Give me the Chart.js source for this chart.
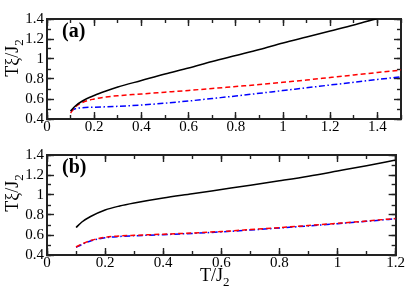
<!DOCTYPE html>
<html>
<head>
<meta charset="utf-8">
<script src="https://cdn.jsdelivr.net/npm/chart.js@4.4.1/dist/chart.umd.min.js"></script>
<style>
  html, body { margin: 0; padding: 0; background: #fff; }
  #wrap { position: relative; width: 411px; height: 293px; overflow: hidden;
          font-family: "Liberation Serif", "DejaVu Serif", serif; color: #000; }
  canvas { position: absolute; left: 0; }
  #chartA { top: 0; }
  #chartB { top: 136px; }
  .panel { position: absolute; font-weight: bold; font-size: 20px; line-height: 20px; }
  .ytitle { position: absolute; width: 80px; height: 20px; line-height: 20px; text-align: center;
            font-size: 18px; white-space: nowrap; transform: rotate(-90deg); }
  .xtitle { position: absolute; font-size: 18px; line-height: 20px; white-space: nowrap; }
  sub { font-size: 0.72em; vertical-align: -0.4em; line-height: 0; }
</style>
</head>
<body>
<div id="wrap">
  <canvas id="chartA" width="411" height="140"></canvas>
  <canvas id="chartB" width="411" height="157"></canvas>
  <div class="panel" style="left:62px; top:20px;">(a)</div>
  <div class="panel" style="left:62px; top:156px;">(b)</div>
  <div class="ytitle" style="left:-28px; top:48px;">Tξ/J<sub>2</sub></div>
  <div class="ytitle" style="left:-28px; top:183px;">Tξ/J<sub>2</sub></div>
  <div class="xtitle" style="left:200px; top:265px;">T/J<sub>2</sub></div>
</div>
<script>
// Panel (a) data
const xA = [0.1, 0.12, 0.15, 0.2, 0.25, 0.3, 0.4, 0.5, 0.6, 0.7, 0.8, 0.9, 1.0, 1.1, 1.2, 1.3, 1.4, 1.5];
const blackA = [0.48, 0.53, 0.58, 0.635, 0.68, 0.72, 0.785, 0.85, 0.91, 0.975, 1.035, 1.095, 1.16, 1.22, 1.28, 1.34, 1.405, 1.46];
const redA = [0.46, 0.52, 0.565, 0.6, 0.62, 0.633, 0.65, 0.668, 0.686, 0.705, 0.725, 0.745, 0.768, 0.79, 0.815, 0.84, 0.865, 0.89];
const blueA = [0.48, 0.503, 0.513, 0.518, 0.522, 0.527, 0.54, 0.558, 0.58, 0.605, 0.63, 0.657, 0.685, 0.712, 0.74, 0.767, 0.795, 0.822];

// Panel (b) data
const xB = [0.1, 0.12, 0.15, 0.2, 0.25, 0.3, 0.4, 0.5, 0.6, 0.7, 0.8, 0.9, 1.0, 1.1, 1.2];
const blackB = [0.675, 0.73, 0.785, 0.85, 0.89, 0.92, 0.97, 1.012, 1.055, 1.098, 1.142, 1.188, 1.24, 1.293, 1.35];
const redB = [0.48, 0.51, 0.545, 0.577, 0.59, 0.597, 0.608, 0.62, 0.635, 0.654, 0.674, 0.695, 0.717, 0.74, 0.765];
const blueB = [0.476, 0.505, 0.54, 0.572, 0.585, 0.592, 0.603, 0.616, 0.631, 0.65, 0.67, 0.691, 0.713, 0.737, 0.762];

// Axis ranges
const yRange = [0.4, 1.4];
const xRangeA = [0, 1.5];
const xRangeB = [0, 1.2];

const FONT = 'Liberation Serif';
const FRAME = '#222';

// one axis; minor ones sit next to the frame and only draw short inward ticks
function axis(pos, range, step, major, labels, size, pad) {
    const horiz = pos === 'top' || pos === 'bottom';
    return {
        type: 'linear', position: pos, min: range[0], max: range[1],
        weight: major ? 1 : 0,
        ticks: {
            stepSize: step, display: labels, autoSkip: false, includeBounds: false,
            maxRotation: 0, color: '#000', padding: pad,
            font: { family: FONT, size: 15 },
            callback: v => String(+v.toFixed(1))
        },
        grid: { drawOnChartArea: false, tickLength: major ? -7 : -4, tickColor: FRAME, tickWidth: 1.4 },
        border: { display: major, color: FRAME, width: 2 },
        afterFit: s => { if (horiz) s.height = size; else s.width = size; }
    };
}

function line(xs, ys, color, dash) {
    return {
        data: xs.map((x, i) => ({ x: x, y: ys[i] })),
        borderColor: color, borderWidth: 1.5, borderDash: dash,
        pointRadius: 0, fill: false, cubicInterpolationMode: 'monotone'
    };
}

function makeChart(id, xs, black, red, blue, xRange, bottomSize) {
    return new Chart(document.getElementById(id), {
        type: 'line',
        data: {
            datasets: [
                line(xs, black, '#000', []),
                line(xs, red, '#ff0000', [5, 3]),
                line(xs, blue, '#0000ff', [6, 2.5, 1.5, 2.5])
            ]
        },
        options: {
            responsive: false, animation: false,
            layout: { padding: { top: 5, right: 10, left: 0, bottom: 0 } },
            plugins: { legend: { display: false }, tooltip: { enabled: false } },
            scales: {
                x: axis('bottom', xRange, 0.2, true, true, bottomSize, 6),
                xm: axis('bottom', xRange, 0.1, false, false, 0, 0),
                x2: axis('top', xRange, 0.2, true, false, 0, 0),
                x2m: axis('top', xRange, 0.1, false, false, 0, 0),
                y: axis('left', yRange, 0.2, true, true, 47, 10),
                ym: axis('left', yRange, 0.1, false, false, 0, 0),
                y2: axis('right', yRange, 0.2, true, false, 0, 0),
                y2m: axis('right', yRange, 0.1, false, false, 0, 0)
            }
        }
    });
}

makeChart('chartA', xA, blackA, redA, blueA, xRangeA, 21);
makeChart('chartB', xB, blackB, redB, blueB, xRangeB, 38);
</script>
</body>
</html>
